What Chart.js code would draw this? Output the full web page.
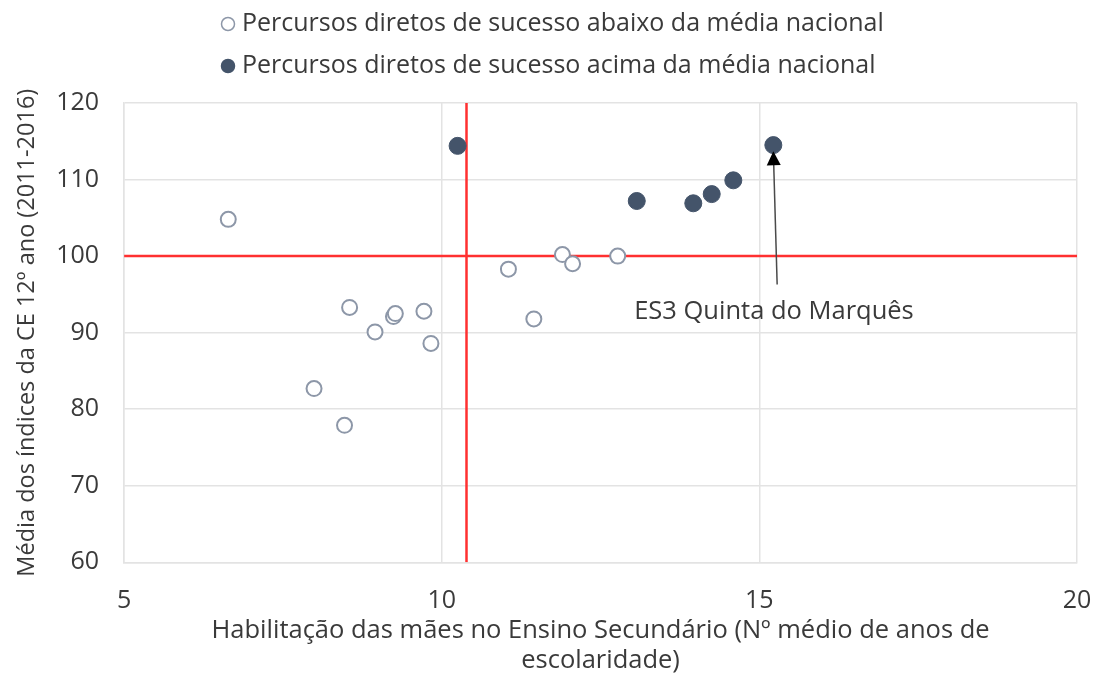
<!DOCTYPE html>
<html lang="pt">
<head>
<meta charset="utf-8">
<title>Habilitação das mães vs índices CE</title>
<script src="https://cdn.jsdelivr.net/npm/chart.js@4/dist/chart.umd.min.js"></script>
<style>
  html, body { margin: 0; padding: 0; background: #fff; }
  #wrap { width: 1095px; height: 675px; }
</style>
</head>
<body>
<div id="wrap"><canvas id="grafico"></canvas></div>
<script>
// Escolas abaixo da média nacional (círculos vazios)
const abaixoX = [6.64, 7.99, 8.47, 8.55, 8.95, 9.24, 9.27, 9.72, 9.83, 11.05, 11.45, 11.90, 12.06, 12.77];
const abaixoY = [104.8, 82.7, 77.9, 93.3, 90.1, 92.1, 92.5, 92.8, 88.6, 98.3, 91.8, 100.2, 99.0, 100.0];

// Escolas acima da média nacional (círculos cheios)
const acimaX = [10.25, 13.07, 13.96, 14.25, 14.59, 15.22];
const acimaY = [114.4, 107.2, 106.9, 108.1, 109.9, 114.5];

// Linhas das médias (vermelhas)
const mediaX = 10.39;
const mediaY = 100;

// Eixos
const limitesX = [5, 20];
const limitesY = [60, 120];

// Legenda e anotação
const nomesSeries = [
  'Percursos diretos de sucesso abaixo da média nacional',
  'Percursos diretos de sucesso acima da média nacional'
];
const rotuloTexto = 'ES3 Quinta do Marquês';
const rotuloPos = [15.23, 92.7];      // centro do texto
const setaInicio = [15.28, 96.3];     // cauda da seta
const setaFim = [15.22, 113.7];       // ponta da seta

const fonte = "'Open Sans', sans-serif";
const corTexto = '#3a3a3a';

const pontos = (xs, ys) => xs.map((x, i) => ({ x: x, y: ys[i] }));

// Legenda desenhada à mão (duas linhas alinhadas à esquerda)
const legendaPlugin = {
  id: 'legendaManual',
  afterDraw(chart) {
    const ctx = chart.ctx;
    ctx.save();
    ctx.font = '25px ' + fonte;
    ctx.textBaseline = 'middle';
    ctx.textAlign = 'left';
    const linhas = [24, 66];
    chart.data.datasets.slice(0, 2).forEach((ds, i) => {
      ctx.beginPath();
      ctx.arc(228, linhas[i], 6.5, 0, Math.PI * 2);
      ctx.fillStyle = ds.backgroundColor;
      ctx.fill();
      ctx.lineWidth = 1.5;
      ctx.strokeStyle = ds.borderColor;
      ctx.stroke();
      ctx.fillStyle = corTexto;
      ctx.fillText(nomesSeries[i], 242, linhas[i]);
    });
    ctx.restore();
  }
};

// Seta e rótulo da ES3 Quinta do Marquês
const anotacaoPlugin = {
  id: 'anotacao',
  afterDatasetsDraw(chart) {
    const ctx = chart.ctx;
    const sx = chart.scales.x, sy = chart.scales.y;
    const x0 = sx.getPixelForValue(setaInicio[0]), y0 = sy.getPixelForValue(setaInicio[1]);
    const x1 = sx.getPixelForValue(setaFim[0]), y1 = sy.getPixelForValue(setaFim[1]);
    const ang = Math.atan2(y1 - y0, x1 - x0);
    ctx.save();
    ctx.strokeStyle = '#4a4a4a';
    ctx.lineWidth = 1.5;
    ctx.beginPath();
    ctx.moveTo(x0, y0);
    ctx.lineTo(x1 - 12 * Math.cos(ang), y1 - 12 * Math.sin(ang));
    ctx.stroke();
    ctx.fillStyle = '#000';
    ctx.beginPath();
    ctx.moveTo(x1, y1);
    ctx.lineTo(x1 - 14 * Math.cos(ang) + 7 * Math.sin(ang), y1 - 14 * Math.sin(ang) - 7 * Math.cos(ang));
    ctx.lineTo(x1 - 14 * Math.cos(ang) - 7 * Math.sin(ang), y1 - 14 * Math.sin(ang) + 7 * Math.cos(ang));
    ctx.closePath();
    ctx.fill();
    ctx.font = '25.5px ' + fonte;
    ctx.fillStyle = corTexto;
    ctx.textAlign = 'center';
    ctx.textBaseline = 'middle';
    ctx.fillText(rotuloTexto, sx.getPixelForValue(rotuloPos[0]), sy.getPixelForValue(rotuloPos[1]));
    ctx.restore();
  }
};

const ctx = document.getElementById('grafico').getContext('2d');
const grafico = new Chart(ctx, {
  type: 'scatter',
  data: {
    datasets: [
      {
        label: nomesSeries[0],
        data: pontos(abaixoX, abaixoY),
        backgroundColor: '#ffffff',
        borderColor: '#8d97a8',
        borderWidth: 2,
        pointRadius: 7.5,
        order: 2
      },
      {
        label: nomesSeries[1],
        data: pontos(acimaX, acimaY),
        backgroundColor: '#44546a',
        borderColor: '#44546a',
        borderWidth: 1,
        pointRadius: 8.5,
        order: 1
      },
      {
        type: 'line',
        label: 'média x',
        data: [{ x: mediaX, y: limitesY[0] }, { x: mediaX, y: limitesY[1] }],
        borderColor: '#ff3030',
        borderWidth: 2.5,
        pointRadius: 0,
        order: 3
      },
      {
        type: 'line',
        label: 'média y',
        data: [{ x: limitesX[0], y: mediaY }, { x: limitesX[1], y: mediaY }],
        borderColor: '#ff3030',
        borderWidth: 2.5,
        pointRadius: 0,
        order: 3
      }
    ]
  },
  options: {
    responsive: true,
    maintainAspectRatio: false,
    animation: false,
    layout: { padding: { top: 103, left: 13, right: 0, bottom: 0 } },
    plugins: {
      legend: { display: false },
      tooltip: { enabled: false }
    },
    scales: {
      x: {
        type: 'linear',
        min: limitesX[0],
        max: limitesX[1],
        // o padding dos ticks entra na margem lateral; corrige aqui
        afterFit: (escala) => { escala.paddingLeft = 18; escala.paddingRight = 18; },
        ticks: { stepSize: 5, padding: 24, color: corTexto, font: { family: fonte, size: 25 } },
        grid: { color: '#e3e3e3', lineWidth: 1.5, drawTicks: false },
        border: { color: '#e3e3e3', width: 1.5 },
        title: {
          display: true,
          text: ['Habilitação das mães no Ensino Secundário (Nº médio de anos de', 'escolaridade)'],
          color: corTexto,
          font: { family: fonte, size: 25.5, lineHeight: 1.15 },
          padding: { top: -24, bottom: 0 }
        }
      },
      y: {
        min: limitesY[0],
        max: limitesY[1],
        ticks: { stepSize: 10, padding: 25, color: corTexto, font: { family: fonte, size: 25 } },
        grid: { color: '#e3e3e3', lineWidth: 1.5, drawTicks: false },
        border: { color: '#e3e3e3', width: 1.5 },
        title: {
          display: true,
          text: 'Média dos índices da CE 12º ano (2011-2016)',
          color: corTexto,
          font: { family: fonte, size: 23.5 },
          padding: { top: 0, bottom: -10 }
        }
      }
    }
  },
  plugins: [legendaPlugin, anotacaoPlugin]
});
</script>
</body>
</html>
